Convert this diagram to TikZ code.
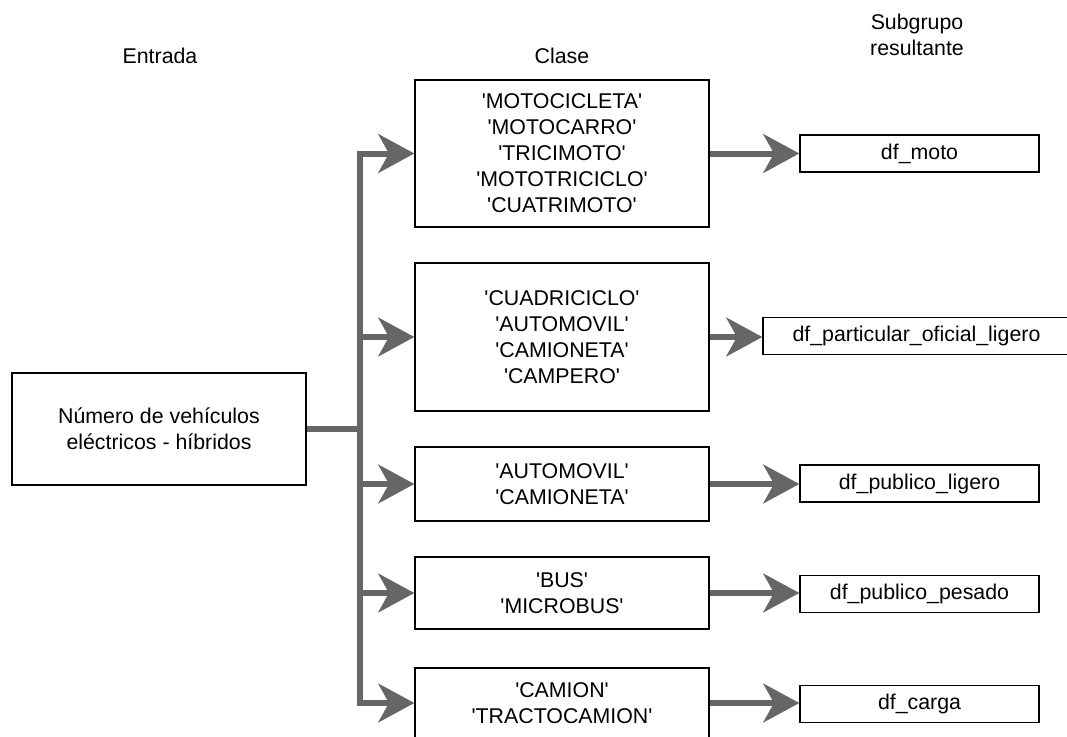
\documentclass[tikz,border=0pt]{standalone}
\usepackage{fontspec}
\setmainfont{Liberation Sans}
\usetikzlibrary{arrows.meta}
\definecolor{linegray}{HTML}{666666}
\newcommand{\sq}{\textquotesingle}
\begin{document}
\begin{tikzpicture}[x=0.75pt,y=-0.75pt,
  txt/.style={font=\fontsize{16}{19.5}\selectfont,align=center},
  box/.style={txt,draw=black,line width=1pt,inner sep=0pt,minimum width=220.5pt},
  obox/.style={txt,draw=black,line width=1pt,inner sep=0pt,minimum width=179.25pt,minimum height=27.75pt},
  conn/.style={draw=linegray,line width=4.5pt,-{Stealth[length=27pt,width=29pt,inset=8pt]}},
]
\useasboundingbox (0,0) rectangle (1067,736);
\clip (0,0) rectangle (1067,736);

% headers
\node[txt] (h1) at (160,56) {Entrada};
\node[txt] (h2) at (562,56) {Clase};
\node[txt] (h3) at (917,35) {Subgrupo\\resultante};

% input
\node[box,minimum height=84pt] (in) at (159,429) {Número de vehículos\\eléctricos - híbridos};

% classes
\node[box,minimum height=110.25pt] (c1) at (562,153.5) {\sq MOTOCICLETA\sq\\\sq MOTOCARRO\sq\\\sq TRICIMOTO\sq\\\sq MOTOTRICICLO\sq\\\sq CUATRIMOTO\sq};
\node[box,minimum height=111pt] (c2) at (562,337) {\sq CUADRICICLO\sq\\\sq AUTOMOVIL\sq\\\sq CAMIONETA\sq\\\sq CAMPERO\sq};
\node[box,minimum height=55.5pt] (c3) at (562,484) {\sq AUTOMOVIL\sq\\\sq CAMIONETA\sq};
\node[box,minimum height=54pt] (c4) at (562,593) {\sq BUS\sq\\\sq MICROBUS\sq};
\node[box,minimum height=52.5pt] (c5) at (562,703) {\sq CAMION\sq\\\sq TRACTOCAMION\sq};

% outputs
\node[obox] (o1) at (919.5,153.5) {df\_moto};
\node[obox,minimum width=230.25pt] (o2) at (916.5,336) {df\_particular\_oficial\_ligero};
\node[obox] (o3) at (919.5,483.5) {df\_publico\_ligero};
\node[obox] (o4) at (919.5,594) {df\_publico\_pesado};
\node[obox] (o5) at (919.5,704) {df\_carga};

% connectors
\coordinate (j) at (360,429);
\foreach \c in {c1,c2,c3,c4,c5}
  \draw[conn] (in.east) -- (j) |- (\c.west);
\draw[conn] (c1.east) -- (c1.east -| o1.west);
\draw[conn] (c2.east) -- (c2.east -| o2.west);
\draw[conn] (c3.east) -- (c3.east -| o3.west);
\draw[conn] (c4.east) -- (c4.east -| o4.west);
\draw[conn] (c5.east) -- (c5.east -| o5.west);
\end{tikzpicture}
\end{document}
